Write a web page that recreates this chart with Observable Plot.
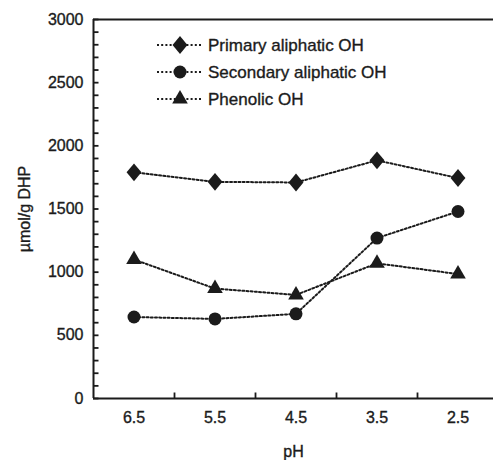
<!DOCTYPE html>
<html>
<head>
<meta charset="utf-8">
<script src="https://cdn.jsdelivr.net/npm/d3@7"></script>
<script src="https://cdn.jsdelivr.net/npm/@observablehq/plot@0.6"></script>
<style>
  html, body { margin: 0; padding: 0; background: #fff; overflow: hidden; }
  #chart svg text { stroke: #1b1b1b; stroke-width: 0.35px; }
</style>
</head>
<body>
<div id="chart"></div>
<script>
// pH steps (categories, left to right) and hydroxyl contents in µmol/g DHP
const pH = [6.5, 5.5, 4.5, 3.5, 2.5];
const primary = [1790, 1715, 1710, 1885, 1745];
const secondary = [645, 630, 670, 1270, 1480];
const phenolic = [1100, 870, 820, 1070, 985];
const seriesNames = ["Primary aliphatic OH", "Secondary aliphatic OH", "Phenolic OH"];

// axis ticks
const yTicks = [0, 500, 1000, 1500, 2000, 2500, 3000];
const yMinorTicks = d3.range(0, 3001, 100);
const xSeparators = [6, 5, 4, 3];

const ink = "#1b1b1b";
const W = 493, H = 460;
const margin = {left: 93, right: 0, top: 19, bottom: 62};
const tickLen = 5.5;

// slightly tall rhombus
const diamond = {
  draw(ctx, size) {
    const w = Math.sqrt(size / 2.4), h = 1.2 * w;
    ctx.moveTo(0, -h); ctx.lineTo(w, 0); ctx.lineTo(0, h); ctx.lineTo(-w, 0); ctx.closePath();
  }
};
const symbols = [diamond, d3.symbolCircle, d3.symbolTriangle];
const radii = [6.5, 6.5, 5.8];

const rows = [primary, secondary, phenolic].flatMap((vals, s) =>
  vals.map((v, i) => ({pH: pH[i], value: v, series: seriesNames[s]}))
);

const frameW = W - margin.left - margin.right;
const frameH = H - margin.top - margin.bottom;

const chart = Plot.plot({
  width: W,
  height: H,
  marginLeft: margin.left,
  marginRight: margin.right,
  marginTop: margin.top,
  marginBottom: margin.bottom,
  style: {fontFamily: "'Liberation Sans', Arial, sans-serif", fontSize: "16px", color: ink, background: "#fff"},
  x: {domain: [7, 2], range: [93, 498]},
  y: {domain: [0, 3000], range: [398, 19]},
  marks: [
    // short inward ticks along the left and bottom edges
    Plot.tickY(yMinorTicks, {y: d => d, stroke: ink, strokeWidth: 1.8, insetRight: frameW - tickLen}),
    Plot.tickX(xSeparators, {x: d => d, stroke: ink, strokeWidth: 1.8, insetTop: frameH - tickLen}),
    Plot.axisY(yTicks, {tickSize: 0, tickPadding: 10, tickFormat: d3.format("d"), label: "µmol/g DHP", labelAnchor: "center", labelOffset: 75, labelArrow: "none"}),
    Plot.axisX(pH, {tickSize: 0, tickPadding: 13, tickFormat: d => d.toFixed(1), label: "pH", labelAnchor: "center", labelOffset: 58, labelArrow: "none"}),
    Plot.ruleY([0, 3000], {stroke: ink, strokeWidth: 2}),
    Plot.ruleX([7], {stroke: ink, strokeWidth: 2}),
    Plot.line(rows, {x: "pH", y: "value", z: "series", stroke: ink, strokeWidth: 2, strokeDasharray: "2,2.2"}),
    ...seriesNames.map((name, s) =>
      Plot.dot(rows.filter(d => d.series === name), {x: "pH", y: "value", symbol: symbols[s], r: radii[s], fill: ink, stroke: "none"})
    )
  ]
});

document.getElementById("chart").appendChild(chart);

// legend: dotted line with marker, then the series name
const svg = d3.select(chart);
const legend = svg.append("g").attr("transform", "translate(157,45)");
seriesNames.forEach((name, i) => {
  const g = legend.append("g").attr("transform", `translate(0,${i * 27})`);
  g.append("line")
    .attr("x1", 0).attr("x2", 46)
    .attr("stroke", ink).attr("stroke-width", 2).attr("stroke-dasharray", "2,2.2");
  g.append("path")
    .attr("transform", "translate(23,0)")
    .attr("d", d3.symbol(symbols[i], Math.PI * radii[i] * radii[i])())
    .attr("fill", ink);
  g.append("text")
    .attr("x", 51).attr("dy", "0.35em")
    .attr("text-anchor", "start")
    .attr("font-size", 17)
    .attr("fill", ink)
    .text(name);
});
</script>
</body>
</html>
